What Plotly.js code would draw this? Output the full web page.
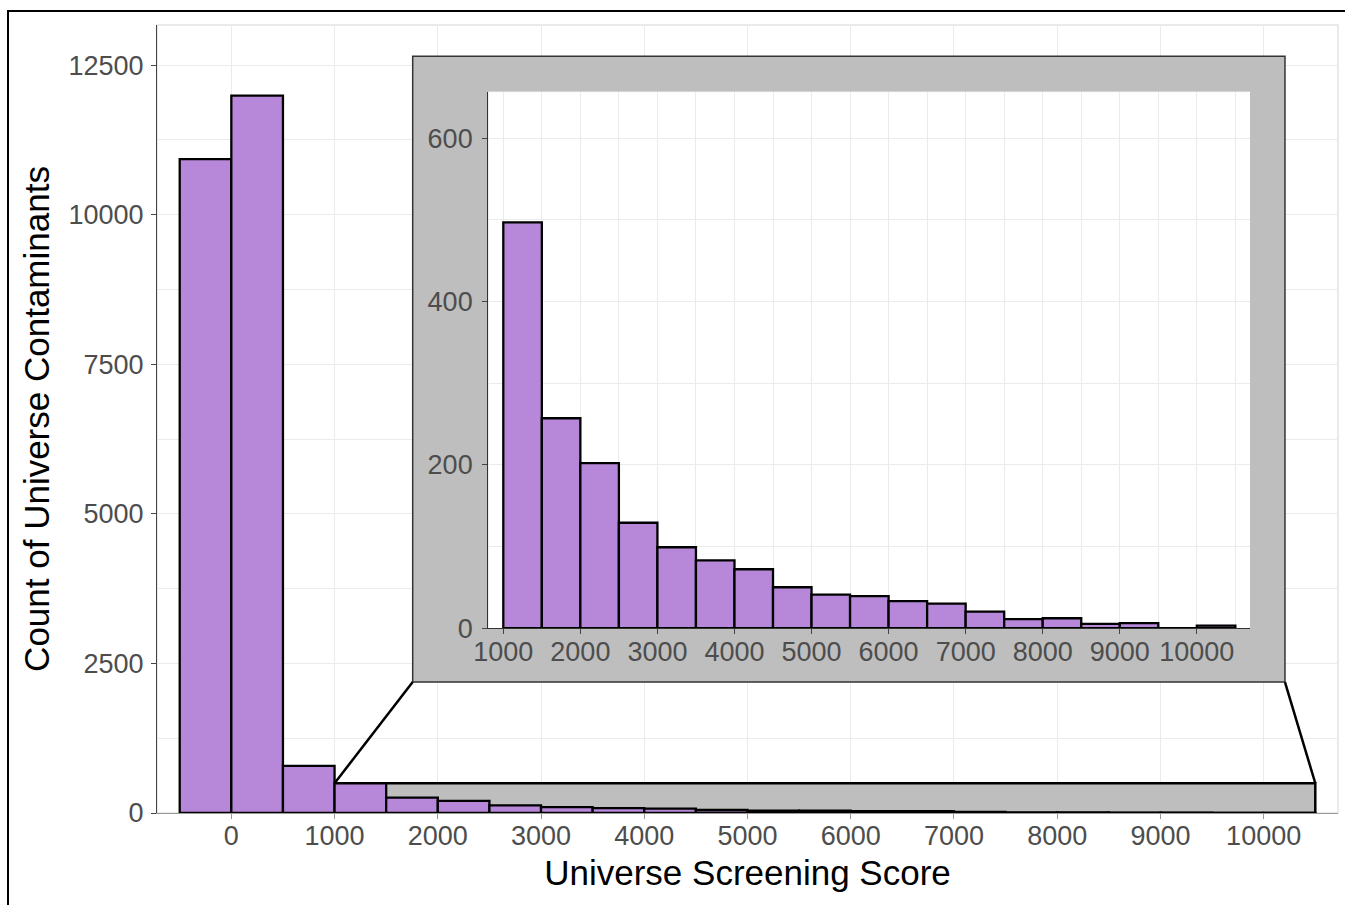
<!DOCTYPE html>
<html><head><meta charset="utf-8">
<script src="https://cdn.plot.ly/plotly-3.0.1.min.js"></script>
<style>
html,body{margin:0;padding:0;background:#fff;}
#wrap{position:relative;width:1345px;height:905px;overflow:hidden;}
#chart{width:1345px;height:905px;}
#frame{position:absolute;left:7px;top:10px;width:1400px;height:1000px;border-left:2px solid #000;border-top:2px solid #000;pointer-events:none;}
</style></head><body>
<div id="wrap"><div id="chart"></div><div id="frame"></div></div>
<script>
// ---- data ----
const binCenters = [-250, 250, 750, 1250, 1750, 2250, 2750, 3250, 3750, 4250, 4750, 5250, 5750, 6250, 6750, 7250, 7750, 8250, 8750, 9250, 9750, 10250];
const counts     = [10927, 11990, 786, 497, 257, 202, 129, 99, 83, 72, 50, 41, 39, 33, 30, 20, 11, 12, 5, 6, 0, 3];
const binWidth = 500;
const zoomStart = 1000;
const mainXTicks = [0, 1000, 2000, 3000, 4000, 5000, 6000, 7000, 8000, 9000, 10000];
const mainYTicks = [0, 2500, 5000, 7500, 10000, 12500];
const insetXTicks = [1000, 2000, 3000, 4000, 5000, 6000, 7000, 8000, 9000, 10000];
const insetYTicks = [0, 200, 400, 600];
const xTitle = 'Universe Screening Score';
const yTitle = 'Count of Universe Contaminants';

// zoomed subset
const insetX = [], insetY = [];
binCenters.forEach((c, i) => { if (c > zoomStart) { insetX.push(c); insetY.push(counts[i]); } });
const zoomEnd = binCenters[binCenters.length - 1] + binWidth / 2;
const zoomTop = Math.max(...insetY);

// ---- styles ----
const purple = '#B788D9';
const grey = '#BEBEBE';
const gridC = '#EBEBEB';
const tickFont = {family: 'Liberation Sans, Arial, sans-serif', size: 27, color: '#4D4D4D'};
const titleFont = {family: 'Liberation Sans, Arial, sans-serif', size: 35, color: '#000'};

const mainXRange = [-720, 10720];
const mainYRange = [0, 13170];
// inset box placement (fractions of main plotting area)
const boxFx = [0.2165, 0.9551], boxFy = [0.1662, 0.9603];
const fx = f => mainXRange[0] + f * (mainXRange[1] - mainXRange[0]);
const fy = f => mainYRange[0] + f * (mainYRange[1] - mainYRange[0]);

const traces = [
  {type: 'bar', x: binCenters, y: counts, xaxis: 'x', yaxis: 'y',
   marker: {color: purple, line: {color: '#000', width: 2.3}}, hoverinfo: 'x+y'},
  {type: 'bar', x: insetX, y: insetY, xaxis: 'x2', yaxis: 'y2',
   marker: {color: purple, line: {color: '#000', width: 2.3}}, hoverinfo: 'x+y'}
];

const layout = {
  width: 1345, height: 905,
  margin: {l: 157, r: 7, t: 25, b: 92},
  paper_bgcolor: '#fff', plot_bgcolor: '#fff',
  showlegend: false, bargap: 0,
  font: {family: 'Liberation Sans, Arial, sans-serif'},
  xaxis: {
    domain: [0, 1], range: mainXRange, tickmode: 'array', tickvals: mainXTicks, ticktext: mainXTicks.map(String),
    ticks: 'outside', ticklen: 5, tickcolor: '#999', tickwidth: 1,
    showline: true, linecolor: '#999', linewidth: 1,
    showgrid: true, gridcolor: gridC, gridwidth: 1, zeroline: false,
    tickfont: tickFont, ticklabelstandoff: -6,
    title: {text: xTitle, font: titleFont, standoff: 10}, automargin: false
  },
  yaxis: {
    domain: [0, 1], range: mainYRange, tickmode: 'array', tickvals: mainYTicks, ticktext: mainYTicks.map(String),
    minor: {dtick: 1250, tick0: 0, showgrid: true, gridcolor: gridC, gridwidth: 1},
    ticks: 'outside', ticklen: 5, tickcolor: '#444', tickwidth: 1,
    showline: true, linecolor: '#444', linewidth: 1,
    showgrid: true, gridcolor: gridC, gridwidth: 1, zeroline: false,
    tickfont: tickFont, ticklabelstandoff: 2,
    title: {text: yTitle, font: titleFont, standoff: 8}, automargin: false
  },
  xaxis2: {
    domain: [0.2805, 0.9255], anchor: 'y2', range: [805, 10690],
    tickmode: 'array', tickvals: insetXTicks, ticktext: insetXTicks.map(String),
    minor: {dtick: 500, tick0: 0, showgrid: true, gridcolor: gridC, gridwidth: 1},
    ticks: 'outside', ticklen: 5, tickcolor: '#444', tickwidth: 1,
    showline: true, linecolor: '#333', linewidth: 1.2,
    showgrid: true, gridcolor: gridC, gridwidth: 1, zeroline: false,
    tickfont: tickFont, ticklabelstandoff: -6, automargin: false
  },
  yaxis2: {
    domain: [0.2347, 0.9154], anchor: 'x2', range: [0, 657],
    tickmode: 'array', tickvals: insetYTicks, ticktext: insetYTicks.map(String),
    minor: {dtick: 100, tick0: 0, showgrid: true, gridcolor: gridC, gridwidth: 1},
    ticks: 'outside', ticklen: 5, tickcolor: '#444', tickwidth: 1,
    showline: true, linecolor: '#333', linewidth: 1.2,
    showgrid: true, gridcolor: gridC, gridwidth: 1, zeroline: false,
    tickfont: tickFont, ticklabelstandoff: 4, automargin: false
  },
  shapes: [
    {type: 'rect', xref: 'paper', yref: 'paper', x0: 0, x1: 1, y0: 0, y1: 1,
     line: {color: '#E3E3E3', width: 1.5}, fillcolor: 'rgba(0,0,0,0)', layer: 'below'},
    {type: 'rect', xref: 'x', yref: 'y', x0: zoomStart, x1: zoomEnd, y0: 0, y1: zoomTop,
     fillcolor: grey, line: {color: '#000', width: 2.5}, layer: 'between'},
    {type: 'rect', xref: 'x', yref: 'y', x0: fx(boxFx[0]), x1: fx(boxFx[1]), y0: fy(boxFy[0]), y1: fy(boxFy[1]),
     fillcolor: grey, line: {color: '#333', width: 1.5}, layer: 'between'},
    {type: 'line', xref: 'x', yref: 'y', x0: zoomStart, y0: zoomTop, x1: fx(boxFx[0]), y1: fy(boxFy[0]),
     line: {color: '#000', width: 2.5}, layer: 'above'},
    {type: 'line', xref: 'x', yref: 'y', x0: zoomEnd, y0: zoomTop, x1: fx(boxFx[1]), y1: fy(boxFy[0]),
     line: {color: '#000', width: 2.5}, layer: 'above'}
  ]
};

Plotly.newPlot('chart', traces, layout, {displayModeBar: false, staticPlot: true});
</script>
</body></html>
